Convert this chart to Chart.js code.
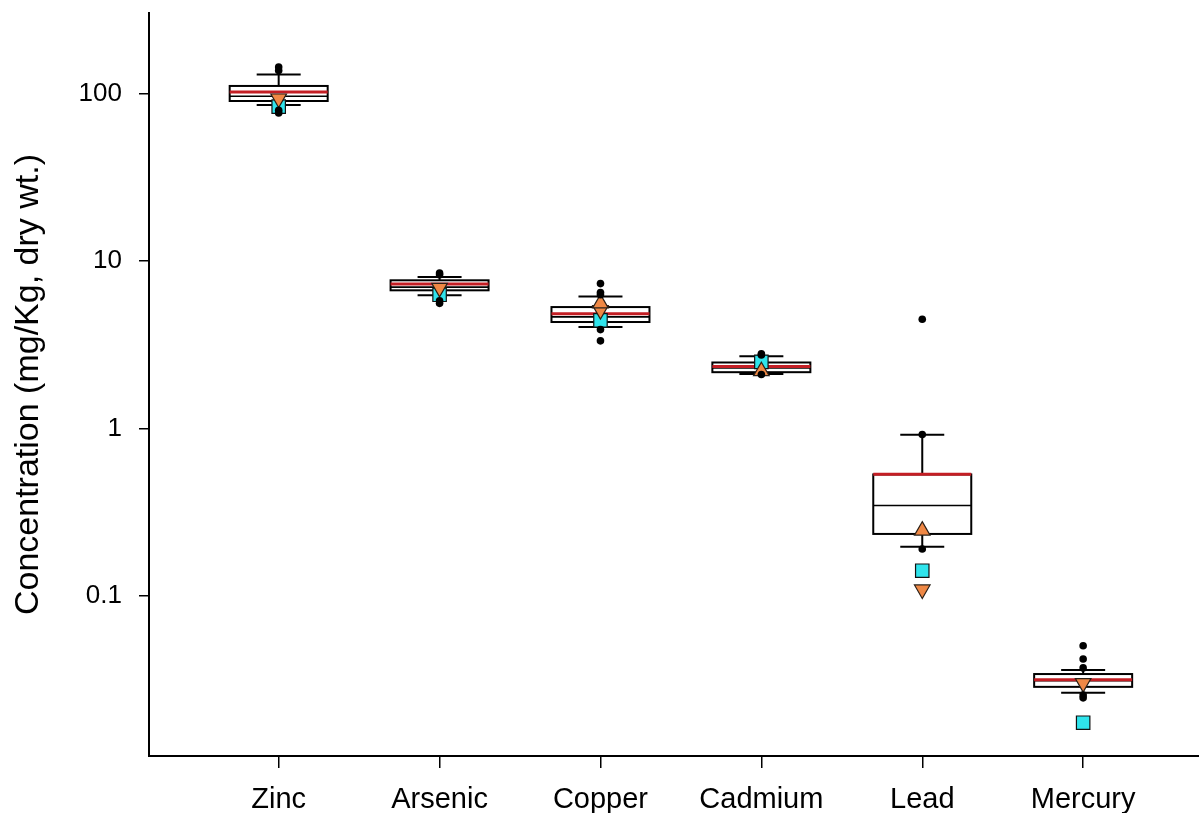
<!DOCTYPE html>
<html><head><meta charset="utf-8">
<script src="https://cdn.jsdelivr.net/npm/chart.js@4.4.1/dist/chart.umd.min.js"></script>
<style>html,body{margin:0;padding:0;background:#fff;} #wrap{width:1199px;height:813px;}</style>
</head><body><div id="wrap"><canvas id="c" width="1199" height="813"></canvas></div>
<script>
const categories = ['Zinc', 'Arsenic', 'Copper', 'Cadmium', 'Lead', 'Mercury'];
const q1Values = [90.8, 6.70, 4.33, 2.17, 0.234, 0.0285];
const q3Values = [111.7, 7.69, 5.32, 2.48, 0.531, 0.034];
const medianValues = [97, 7.0, 4.65, 2.3, 0.346, 0.031];
const meanValues = [102.8, 7.3, 4.86, 2.35, 0.533, 0.0314];
const lowerWhisker = [86, 6.25, 4.04, 2.12, 0.196, 0.0263];
const upperWhisker = [131, 8.05, 6.16, 2.7, 0.916, 0.0359];
const outlierValues = [
  [145, 138, 77, 80],
  [8.5, 8.3, 5.6, 5.8],
  [7.35, 6.5, 6.3, 3.9, 3.34],
  [2.8, 2.75, 2.1],
  [4.5, 0.92, 0.19],
  [0.0502, 0.0418, 0.037, 0.0245, 0.0255]
];
const triangleUpValues = [null, null, 5.6, 2.2, 0.245, null];
const triangleDownValues = [94, 6.93, 5.1, null, 0.109, 0.030];
const squareValues = [84, 6.3, 4.43, 2.5, 0.141, 0.0174];
const yTickValues = [0.1, 1, 10, 100];
const yTickLabels = ['0.1', '1', '10', '100'];

const toPoints = arr => arr.map((v, i) => v == null ? null : {x: i, y: v}).filter(p => p);
const outlierPoints = [];
outlierValues.forEach((list, i) => list.forEach(v => outlierPoints.push({x: i, y: v})));

const boxPlugin = {
  id: 'boxes',
  beforeDatasetsDraw(chart) {
    const ctx = chart.ctx, x = chart.scales.x, y = chart.scales.y;
    ctx.save();
    categories.forEach((c, i) => {
      const cx = x.getPixelForValue(i);
      const half = 49, capHalf = 22;
      const yq1 = y.getPixelForValue(q1Values[i]);
      const yq3 = y.getPixelForValue(q3Values[i]);
      const ymed = y.getPixelForValue(medianValues[i]);
      const ymean = y.getPixelForValue(meanValues[i]);
      const ylo = y.getPixelForValue(lowerWhisker[i]);
      const yhi = y.getPixelForValue(upperWhisker[i]);
      ctx.strokeStyle = '#000';
      ctx.lineWidth = 2;
      ctx.beginPath();
      ctx.moveTo(cx, yq3); ctx.lineTo(cx, yhi);
      ctx.moveTo(cx, yq1); ctx.lineTo(cx, ylo);
      ctx.moveTo(cx - capHalf, yhi); ctx.lineTo(cx + capHalf, yhi);
      ctx.moveTo(cx - capHalf, ylo); ctx.lineTo(cx + capHalf, ylo);
      ctx.stroke();
      ctx.fillStyle = '#fff';
      ctx.fillRect(cx - half, yq3, 2 * half, yq1 - yq3);
      ctx.strokeRect(cx - half, yq3, 2 * half, yq1 - yq3);
      ctx.lineWidth = 1.6;
      ctx.beginPath(); ctx.moveTo(cx - half, ymed); ctx.lineTo(cx + half, ymed); ctx.stroke();
      ctx.strokeStyle = '#c41e24';
      ctx.lineWidth = 3;
      ctx.beginPath(); ctx.moveTo(cx - half, ymean); ctx.lineTo(cx + half, ymean); ctx.stroke();
    });
    ctx.restore();
  }
};

const zeroPad = s => { s.paddingTop = 0; s.paddingBottom = 0; s.paddingLeft = 0; s.paddingRight = 0; };

new Chart(document.getElementById('c'), {
  type: 'scatter',
  data: {
    datasets: [
      {label: 'outliers', data: outlierPoints, pointStyle: 'circle', pointRadius: 3.8, pointBackgroundColor: '#000', pointBorderWidth: 0, order: 1},
      {label: 'up', data: toPoints(triangleUpValues), pointStyle: 'triangle', pointRadius: 9, pointBackgroundColor: '#ef8845', pointBorderColor: '#2a2018', pointBorderWidth: 1.2, order: 2},
      {label: 'down', data: toPoints(triangleDownValues), pointStyle: 'triangle', pointRotation: 180, pointRadius: 9, pointBackgroundColor: '#ef8845', pointBorderColor: '#2a2018', pointBorderWidth: 1.2, order: 2},
      {label: 'square', data: toPoints(squareValues), pointStyle: 'rect', pointRadius: 9.5, pointBackgroundColor: '#2fe4ec', pointBorderColor: '#111', pointBorderWidth: 1.2, order: 3}
    ]
  },
  options: {
    responsive: false,
    animation: false,
    devicePixelRatio: 1,
    layout: {autoPadding: false, padding: {top: 13, right: 0, bottom: 0, left: 0}},
    plugins: {legend: {display: false}, tooltip: {enabled: false}},
    scales: {
      x: {
        type: 'linear', min: -0.806, max: 5.72,
        afterBuildTicks: s => { s.ticks = categories.map((c, i) => ({value: i})); },
        afterFit: s => { s.height = 57; zeroPad(s); },
        ticks: {callback: (v) => categories[v], font: {family: 'Liberation Sans', size: 29}, color: '#000', padding: 15, maxRotation: 0, autoSkip: false},
        grid: {drawOnChartArea: false, drawTicks: true, tickLength: 12, color: '#000', lineWidth: 1.5},
        border: {display: true, color: '#000', width: 2}
      },
      y: {
        type: 'logarithmic', min: 0.011, max: 305,
        afterBuildTicks: s => { s.ticks = yTickValues.map(v => ({value: v})); },
        afterFit: s => { s.width = 149; zeroPad(s); },
        ticks: {callback: (v, idx) => yTickLabels[idx], font: {family: 'Liberation Sans', size: 26}, color: '#000', padding: 17, autoSkip: false},
        grid: {drawOnChartArea: false, drawTicks: true, tickLength: 10, color: '#000', lineWidth: 1.5},
        border: {display: true, color: '#000', width: 2},
        title: {display: true, text: 'Concentration (mg/Kg, dry wt.)', font: {family: 'Liberation Sans', size: 34}, color: '#000', padding: {top: 8, bottom: 0}}
      }
    }
  },
  plugins: [boxPlugin]
});
</script>
</body></html>
